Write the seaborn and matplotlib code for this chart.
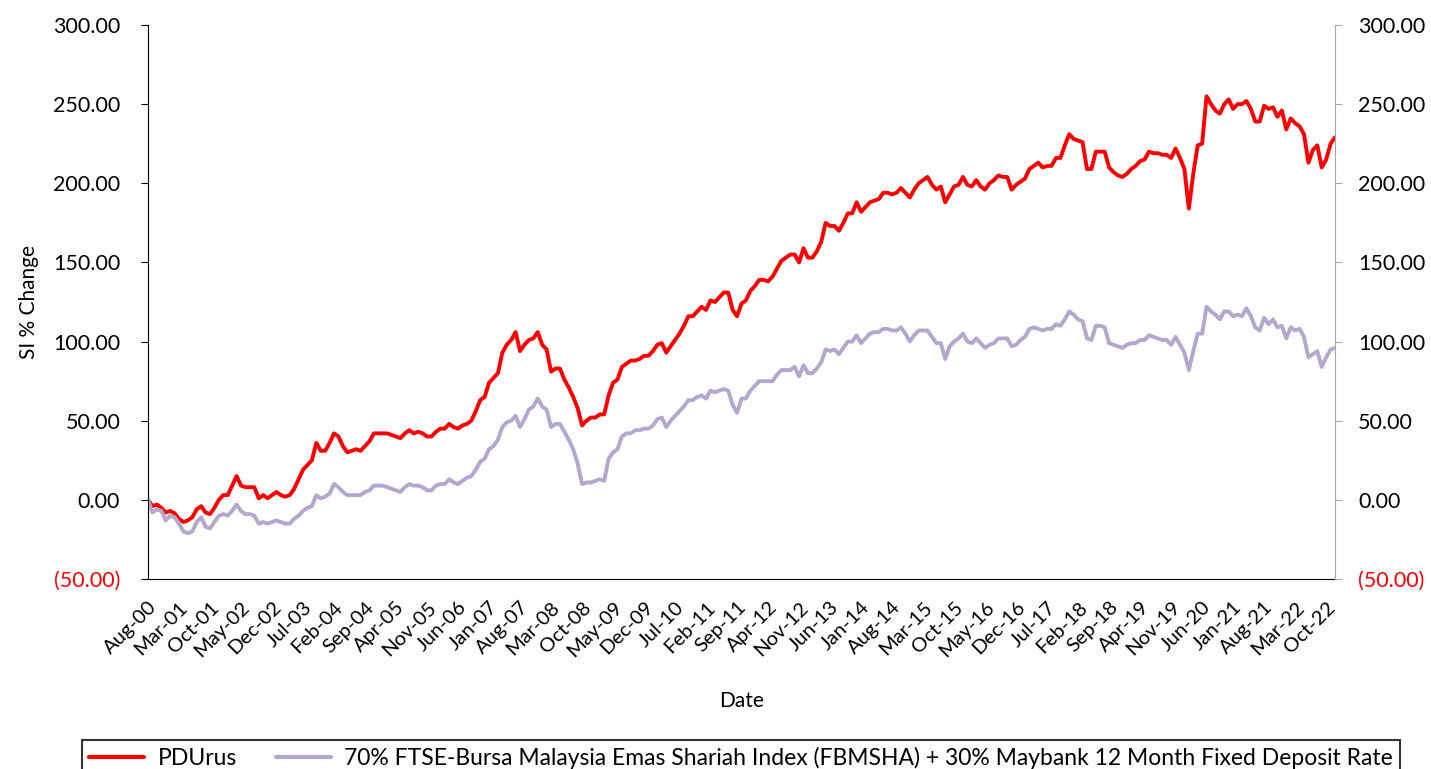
import numpy as np
import pandas as pd
import seaborn as sns
import matplotlib.pyplot as plt

# monthly SI % change, Aug-00 .. Dec-22
pdurus = [
    0, -4, -3, -5, -8, -7, -8.5, -12, -14, -13,
    -11, -6, -4, -8, -9, -5, 0, 3, 3, 9,
    15, 9, 8, 8, 8, 1, 3, 1, 3, 5,
    3, 2, 3, 7, 13, 19, 22, 25, 36, 31,
    31, 36, 42, 40, 34, 30, 31, 32, 31, 34,
    37, 42, 42, 42, 42, 41, 40, 39, 42, 44,
    42, 43, 42, 40, 40, 43, 45, 45, 48, 46,
    45, 47, 48, 50, 56, 63, 65, 74, 77, 80,
    93, 98, 101, 106, 94, 98, 101, 102, 106, 98,
    95, 81, 83, 83, 76, 71, 65, 58, 47, 50,
    52, 52, 54, 54, 66, 74, 76, 84, 86, 88,
    88, 89, 91, 91, 94, 98, 99, 93, 97, 101,
    105, 110, 116, 116, 119, 122, 120, 126, 125, 128,
    131, 131, 120, 116, 124, 126, 132, 135, 139, 139,
    138, 141, 146, 151, 153, 155, 155, 150, 159, 153,
    153, 157, 163, 175, 173, 173, 170, 175, 181, 181,
    188, 182, 185, 188, 189, 190, 194, 194, 193, 194,
    197, 194, 191, 196, 200, 202, 204, 199, 196, 198,
    188, 193, 198, 199, 204, 199, 198, 202, 198, 196,
    200, 202, 205, 204, 204, 196, 199, 201, 203, 209,
    211, 213, 210, 211, 211, 216, 216, 224, 231, 228,
    227, 226, 209, 209, 220, 220, 220, 210, 207, 205,
    204, 206, 209, 211, 214, 215, 220, 219, 219, 218,
    218, 216, 222, 216, 209, 184, 206, 224, 225, 255,
    250, 246, 244, 250, 253, 247, 250, 250, 252, 247,
    239, 239, 249, 247, 248, 242, 246, 234, 241, 238,
    236, 231, 213, 221, 224, 210, 215, 225, 229,
]

benchmark = [
    0, -8, -6, -7, -13, -10, -11, -15, -20, -21,
    -20, -14, -11, -17, -18, -14, -10, -9, -10, -7,
    -3, -7, -9, -9, -10, -15, -14, -15, -14, -13,
    -14, -15, -15, -12, -10, -7, -5, -4, 3, 1,
    2, 4, 10, 8, 5, 3, 3, 3, 3, 5,
    6, 9, 9, 9, 8, 7, 6, 5, 8, 10,
    9, 9, 8, 6, 6, 9, 10, 10, 13, 11,
    10, 12, 14, 15, 19, 24, 26, 32, 34, 38,
    46, 49, 50, 53, 46, 51, 57, 59, 64, 59,
    57, 46, 48, 48, 43, 38, 32, 23, 10, 11,
    11, 12, 13, 12, 26, 30, 32, 40, 42, 42,
    44, 44, 45, 45, 47, 51, 52, 46, 50, 53,
    56, 59, 63, 63, 65, 66, 64, 69, 68, 69,
    70, 69, 60, 55, 64, 64, 69, 72, 75, 75,
    75, 75, 79, 82, 82, 82, 84, 78, 85, 80,
    80, 83, 87, 95, 94, 95, 92, 96, 100, 100,
    104, 99, 102, 105, 106, 106, 108, 108, 107, 107,
    109, 105, 100, 104, 107, 107, 107, 103, 99, 99,
    89, 97, 100, 102, 105, 100, 99, 102, 99, 96,
    98, 99, 102, 102, 102, 97, 98, 101, 103, 108,
    109, 108, 107, 108, 108, 111, 110, 114, 119, 117,
    114, 113, 102, 101, 110, 110, 109, 99, 98, 97,
    96, 98, 99, 99, 101, 101, 104, 103, 102, 101,
    101, 98, 103, 98, 93, 82, 94, 105, 105, 122,
    119, 117, 114, 119, 119, 116, 117, 116, 121, 116,
    109, 107, 115, 111, 114, 109, 110, 102, 109, 107,
    108, 103, 90, 92, 94, 84, 90, 95, 96,
]

series_names = [
    'PDUrus',
    '70% FTSE-Bursa Malaysia Emas Shariah Index (FBMSHA) + 30% Maybank 12 Month Fixed Deposit Rate',
]
y_ticks = [-50, 0, 50, 100, 150, 200, 250, 300]

months = pd.date_range('2000-08-01', periods=len(pdurus), freq='MS')
month_labels = months.strftime('%b-%y')

df = pd.DataFrame({'idx': np.arange(len(pdurus)),
                   series_names[0]: pdurus,
                   series_names[1]: benchmark})
df = df.melt(id_vars='idx', var_name='series', value_name='value')

sns.set_style('white')
plt.rcParams['font.family'] = ['Lato', 'DejaVu Sans']
plt.rcParams['text.color'] = 'black'
plt.rcParams['axes.labelcolor'] = 'black'
plt.rcParams['xtick.color'] = 'black'
plt.rcParams['ytick.color'] = 'black'

fig = plt.figure(figsize=(14.31, 7.69), dpi=100)
ax = fig.add_axes([148/1431, 1-579/769, (1335-148)/1431, (579-25)/769])

sns.lineplot(data=df, x='idx', y='value', hue='series', hue_order=series_names,
             palette=['#FF0000', '#B4A7CF'], linewidth=2.8, ax=ax, legend=True)
handles, labels = ax.get_legend_handles_labels()
ax.get_legend().remove()

ax.set_xlim(0, len(pdurus) - 1)
ax.set_ylim(-50, 300)

def fmt(v):
    return '({:.2f})'.format(abs(v)) if v < 0 else '{:.2f}'.format(v)

ylabels = [fmt(v) for v in y_ticks]
ax.set_yticks(y_ticks)
ax.set_yticklabels(ylabels, fontsize=15.5)
for t, v in zip(ax.get_yticklabels(), y_ticks):
    if v < 0:
        t.set_color('#FF0000')

xt = np.arange(0, len(pdurus), 7)
ax.set_xticks(xt)
ax.set_xticklabels(month_labels[::7], rotation=45, ha='right',
                   rotation_mode='anchor', fontsize=14.5)
ax.tick_params(axis='x', length=0, pad=14)
ax.tick_params(axis='y', length=5, direction='out', left=True, pad=15)

ax.set_xlabel('Date', fontsize=15, labelpad=22)
ax.set_ylabel('SI % Change', fontsize=15, labelpad=10)

for s in ['top', 'right']:
    ax.spines[s].set_visible(False)
ax.spines['left'].set_color('black')
ax.spines['bottom'].set_color('black')

ax2 = ax.twinx()
ax2.set_ylim(ax.get_ylim())
ax2.set_yticks(y_ticks)
ax2.set_yticklabels(ylabels, fontsize=15.5)
for t, v in zip(ax2.get_yticklabels(), y_ticks):
    if v < 0:
        t.set_color('#FF0000')
ax2.tick_params(axis='y', length=5, direction='out', right=True, pad=11.5, color='#A6A6A6')
for s in ['top', 'left', 'bottom']:
    ax2.spines[s].set_visible(False)
ax2.spines['right'].set_color('#A6A6A6')

leg = fig.legend(handles, labels, loc='upper center',
                 bbox_to_anchor=((84+1398)/2/1431, 1-729/769),
                 ncol=2, fontsize=16.5, frameon=True, fancybox=False,
                 edgecolor='black', handlelength=2.4, handletextpad=0.6,
                 columnspacing=1.7, borderpad=0.3)
leg.get_frame().set_linewidth(1.5)
for line in leg.get_lines():
    line.set_linewidth(3)

fig.savefig('out.png', dpi=100)
